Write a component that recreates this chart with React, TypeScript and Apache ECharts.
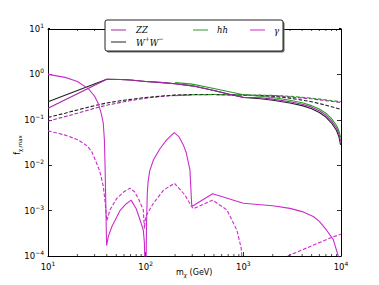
import React, { useEffect, useRef } from "react";
import * as echarts from "echarts";

// ---------- data (m_chi in GeV, f_chi,max) ----------
const xTicks = [10, 100, 1000, 10000];
const yTicks = [1e-4, 1e-3, 1e-2, 1e-1, 1, 10];
const minorX = [20, 30, 40, 50, 60, 70, 80, 90, 200, 300, 400, 500, 600, 700, 800, 900, 2000, 3000, 4000, 5000, 6000, 7000, 8000, 9000];
const minorY = [
  2e-4, 3e-4, 4e-4, 5e-4, 6e-4, 7e-4, 8e-4, 9e-4,
  2e-3, 3e-3, 4e-3, 5e-3, 6e-3, 7e-3, 8e-3, 9e-3,
  2e-2, 3e-2, 4e-2, 5e-2, 6e-2, 7e-2, 8e-2, 9e-2,
  0.2, 0.3, 0.4, 0.5, 0.6, 0.7, 0.8, 0.9,
  2, 3, 4, 5, 6, 7, 8, 9,
];

const wwSolid = [
  [10, 0.25], [40, 0.78], [55, 0.77], [70, 0.75], [100, 0.7], [150, 0.66], [200, 0.62], [300, 0.56],
  [500, 0.44], [700, 0.37], [1000, 0.31], [1500, 0.29], [2000, 0.27], [3000, 0.235], [4000, 0.205],
  [5000, 0.175], [6000, 0.145], [7000, 0.115], [8000, 0.085], [9000, 0.058], [9500, 0.043], [9900, 0.028],
];
const zzSolid = [
  [10, 0.18], [40, 0.78], [55, 0.77], [70, 0.75], [100, 0.7], [150, 0.66], [200, 0.62], [300, 0.56],
  [500, 0.44], [700, 0.37], [1000, 0.315], [1500, 0.305], [2000, 0.285], [3000, 0.25], [4000, 0.22],
  [5000, 0.19], [6000, 0.158], [7000, 0.127], [8000, 0.095], [9000, 0.066], [9500, 0.05], [9900, 0.034],
];
const hhSolid = [
  [200, 0.66], [300, 0.61], [500, 0.49], [700, 0.42], [1000, 0.355], [1500, 0.33], [2000, 0.31],
  [3000, 0.27], [4000, 0.237], [5000, 0.205], [6000, 0.173], [7000, 0.14], [8000, 0.106], [9000, 0.075],
  [9500, 0.058], [9900, 0.041],
];
const wwDash = [
  [10, 0.113], [15, 0.14], [20, 0.165], [30, 0.205], [40, 0.235], [60, 0.27], [100, 0.31], [150, 0.335],
  [200, 0.35], [300, 0.36], [500, 0.36], [1000, 0.35], [2000, 0.33], [3000, 0.3], [5000, 0.25],
  [7000, 0.21], [10000, 0.17],
];
const zzDash = [
  [10, 0.093], [15, 0.118], [20, 0.14], [30, 0.18], [40, 0.21], [60, 0.25], [100, 0.3], [150, 0.33],
  [200, 0.345], [300, 0.355], [500, 0.36], [1000, 0.35], [2000, 0.34], [3000, 0.32], [5000, 0.29],
  [7000, 0.265], [10000, 0.24],
];
const hhDash = [
  [200, 0.34], [300, 0.355], [500, 0.36], [1000, 0.355], [2000, 0.345], [3000, 0.33], [5000, 0.3],
  [7000, 0.275], [10000, 0.25],
];
const gammaSolid = [
  [10, 1.0], [15, 0.86], [20, 0.7], [26, 0.48], [30, 0.33], [32.7, 0.23], [35, 0.14], [36.8, 0.084],
  [37.8, 0.036], [38.4, 0.0093], [39, 0.0017], [39.8, 0.00017], [41.5, 0.00027], [45, 0.00044],
  [55, 0.00103], [63, 0.0014], [71, 0.0017], [80, 0.0011], [87.5, 0.00063], [94.6, 0.00037],
  [97, 0.0002], [98.5, 0.00005], [101, 0.00005], [102, 0.0005], [104, 0.0025], [106, 0.0044],
  [110, 0.0075], [120, 0.013], [140, 0.023], [164, 0.036], [196, 0.052], [220, 0.042], [243, 0.028],
  [260, 0.019], [284, 0.0079], [296, 0.00133], [303, 0.00126], [485, 0.00235], [1000, 0.00145],
  [2000, 0.00128], [3000, 0.00112], [4000, 0.00095], [5200, 0.00074], [6000, 0.00058], [7130, 0.00037],
  [8340, 0.00023], [9370, 0.0001], [9700, 0.00005],
];
const gammaDashA = [
  [10, 0.057], [15, 0.046], [20.4, 0.036], [25, 0.027], [28, 0.02], [31.5, 0.011], [34, 0.0072],
  [36.8, 0.0035], [38.5, 0.0015], [40, 0.0006], [43.1, 0.00103], [50.6, 0.00186], [60, 0.0026],
  [69, 0.0031], [77, 0.0026], [84, 0.00186], [94.6, 0.00103], [97, 0.0004], [100, 0.00074],
  [120, 0.00145], [152, 0.0028], [197, 0.004], [253, 0.0022], [296, 0.00122], [308, 0.0011],
  [485, 0.0017], [680, 0.00103], [860, 0.00037], [950, 0.00015], [990, 0.00005],
];
const gammaDashB = [[2850, 0.0001], [8340, 0.000266], [10000, 0.0003]];

// ---------- styles ----------
const C_WW = "#222222";
const C_ZZ = "#a326a8";
const C_HH = "#2a9a2a";
const C_G = "#cc2ccc";
const DASH = [3.7, 1.8];
const FONT = "DejaVu Sans";

function supLabel(v: number) {
  const e = Math.round(Math.log10(v));
  const s = e < 0 ? "\u2212" + String(-e) : String(e);
  return "{b|10}{s|" + s + "}";
}

export default function App() {
  const ref = useRef<HTMLDivElement>(null);
  useEffect(() => {
    if (!ref.current) return;
    const chart = echarts.init(ref.current, undefined, { renderer: "svg" });
    const rich = {
      b: { fontSize: 8.5, fontFamily: FONT, color: "#000", lineHeight: 13 },
      s: { fontSize: 6, fontFamily: FONT, color: "#000", verticalAlign: "top", lineHeight: 8 },
    };
    const axisCommon = {
      axisLine: { show: true, onZero: false, lineStyle: { color: "#000", width: 1 } },
      axisTick: { show: true, inside: true, length: 4, lineStyle: { color: "#000", width: 0.8 } },
      splitLine: { show: false },
      minorTick: { show: false },
    };
    const line = (name: string, data: number[][], color: string, dashed: boolean, z = 2) => ({
      name,
      type: "line",
      data,
      showSymbol: false,
      symbol: "none",
      clip: true,
      z,
      lineStyle: { color, width: 1.1, type: dashed ? DASH : "solid" },
    });
    const minorRender = (isX: boolean) => (params: any, api: any) => {
      const v = api.value(0);
      if (isX) {
        const b = api.coord([v, 1e-4]);
        const t = api.coord([v, 10]);
        return {
          type: "group",
          children: [
            { type: "line", shape: { x1: b[0], y1: b[1], x2: b[0], y2: b[1] - 2 }, style: { stroke: "#000", lineWidth: 0.7 } },
            { type: "line", shape: { x1: t[0], y1: t[1], x2: t[0], y2: t[1] + 2 }, style: { stroke: "#000", lineWidth: 0.7 } },
          ],
        };
      }
      const l = api.coord([10, v]);
      const r = api.coord([10000, v]);
      return {
        type: "group",
        children: [
          { type: "line", shape: { x1: l[0], y1: l[1], x2: l[0] + 2, y2: l[1] }, style: { stroke: "#000", lineWidth: 0.7 } },
          { type: "line", shape: { x1: r[0], y1: r[1], x2: r[0] - 2, y2: r[1] }, style: { stroke: "#000", lineWidth: 0.7 } },
        ],
      };
    };
    const legendLine = (x: number, y: number, color: string) => ({
      type: "line",
      z: 101,
      shape: { x1: x, y1: y, x2: x + 15, y2: y },
      style: { stroke: color, lineWidth: 1 },
    });
    const legendText = (x: number, y: number, text: string) => ({
      type: "text",
      z: 101,
      x,
      y,
      style: {
        text,
        fontFamily: "DejaVu Serif",
        fontStyle: "italic",
        fontSize: 8.5,
        fill: "#000",
        verticalAlign: "middle",
        align: "left",
        rich: {
          n: { fontFamily: "DejaVu Serif", fontStyle: "italic", fontSize: 8.5, lineHeight: 12, verticalAlign: "bottom" },
          p: { fontFamily: "DejaVu Serif", fontSize: 6, lineHeight: 12, verticalAlign: "top" },
        },
      },
    });

    chart.setOption({
      animation: false,
      backgroundColor: "#fff",
      grid: { left: 48, top: 29, right: 38, bottom: 29, containLabel: false },
      xAxis: [
        {
          type: "log", logBase: 10, min: 10, max: 10000, position: "bottom", ...axisCommon,
          axisLabel: { show: true, margin: 4, formatter: supLabel, rich },
        },
        {
          type: "log", logBase: 10, min: 10, max: 10000, position: "top", ...axisCommon,
          axisLabel: { show: false },
        },
      ],
      yAxis: [
        {
          type: "log", logBase: 10, min: 1e-4, max: 10, position: "left", ...axisCommon,
          axisLabel: { show: true, margin: 4, formatter: supLabel, rich },
        },
        {
          type: "log", logBase: 10, min: 1e-4, max: 10, position: "right", ...axisCommon,
          axisLabel: { show: false },
        },
      ],
      series: [
        line("ZZ dashed", zzDash, C_ZZ, true),
        line("WW dashed", wwDash, C_WW, true),
        line("hh dashed", hhDash, C_HH, true),
        line("gamma dashed a", gammaDashA, C_G, true),
        line("gamma dashed b", gammaDashB, C_G, true),
        line("WW", wwSolid, C_WW, false, 3),
        line("ZZ", zzSolid, C_ZZ, false, 3),
        line("hh", hhSolid, C_HH, false, 3),
        line("gamma", gammaSolid, C_G, false, 3),
        {
          name: "minor x", type: "custom", silent: true, z: 5,
          data: minorX.map((v) => [v, 1]), encode: { x: 0, y: 1 },
          renderItem: minorRender(true),
        },
        {
          name: "minor y", type: "custom", silent: true, z: 5,
          data: minorY.map((v) => [10, v]), encode: { x: 1, y: 1 },
          renderItem: minorRender(false),
        },
      ],
      graphic: [
        { type: "rect", z: 99, shape: { x: 106.5, y: 21.5, width: 178, height: 31, r: 2 }, style: { fill: "#666", stroke: "none" } },
        { type: "rect", z: 100, shape: { x: 105, y: 20, width: 178, height: 31, r: 2 }, style: { fill: "#fff", stroke: "#222", lineWidth: 1 } },
        legendLine(111, 30, C_ZZ),
        legendText(136, 30, "ZZ"),
        legendLine(111, 42, C_WW),
        legendText(136, 41, "{n|W}{p|+}{n|W}{p|\u2212}"),
        legendLine(193, 30, C_HH),
        legendText(217, 30, "hh"),
        legendLine(250, 30, C_G),
        legendText(274, 31, "\u03b3"),
        {
          type: "text", z: 101, x: 176, y: 272,
          style: {
            text: "{a|m}{c|\u03c7}{a| (GeV)}",
            verticalAlign: "middle",
            rich: {
              a: { fontFamily: FONT, fontSize: 8, lineHeight: 12, verticalAlign: "middle" },
              c: { fontFamily: FONT, fontStyle: "italic", fontSize: 5.5, lineHeight: 12, verticalAlign: "bottom" },
            },
          },
        },
        {
          type: "text", z: 101, x: 17, y: 145, rotation: Math.PI / 2,
          style: {
            text: "{a|f}{c|\u03c7,max}",
            align: "center",
            verticalAlign: "middle",
            rich: {
              a: { fontFamily: FONT, fontSize: 8, lineHeight: 12, verticalAlign: "middle" },
              c: { fontFamily: FONT, fontSize: 5.5, lineHeight: 12, verticalAlign: "bottom" },
            },
          },
        },
      ],
    });
    return () => chart.dispose();
  }, []);
  return (
    <div
      ref={ref}
      style={{ position: "absolute", left: 0, top: 0, width: 379, height: 285, background: "#fff" }}
    />
  );
}
